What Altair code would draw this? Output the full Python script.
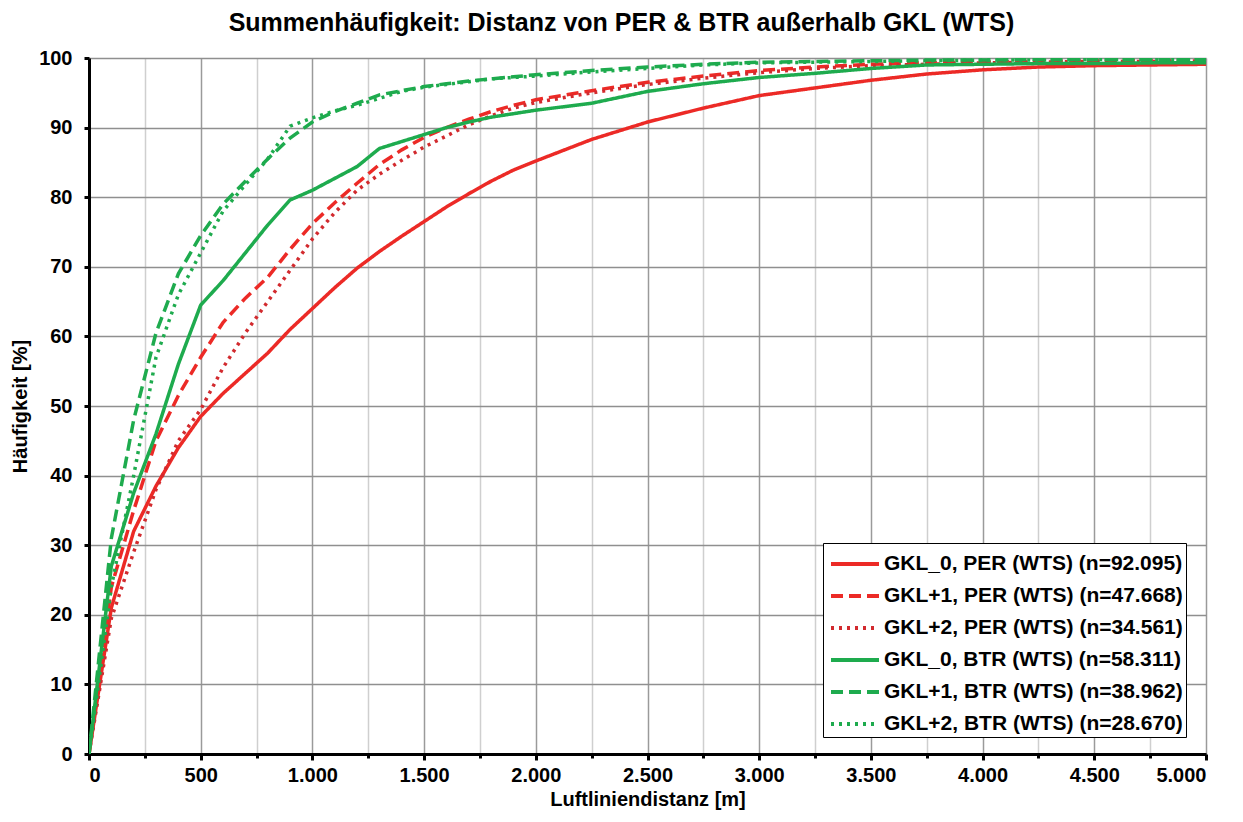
import altair as alt
import pandas as pd

# Distance grid [m]
distance = [0, 100, 200, 300, 400, 500, 600, 700, 800, 900, 1000, 1100, 1200, 1300, 1400,
            1500, 1600, 1700, 1800, 1900, 2000, 2250, 2500, 2750, 3000, 3250, 3500, 3750,
            4000, 4250, 4500, 4750, 5000]

# Cumulative frequency [%]
gkl0_per = [0, 21, 32, 38.5, 44, 48.5, 51.8, 54.7, 57.6, 61, 64, 67, 69.8, 72.2, 74.4,
            76.5, 78.6, 80.5, 82.3, 83.9, 85.2, 88.3, 90.8, 92.8, 94.6, 95.7, 96.8, 97.7,
            98.3, 98.7, 98.9, 99.0, 99.1]
gkl1_per = [0, 24, 35, 45, 51.5, 57, 62, 65.5, 68.5, 72.5, 76.2, 79.2, 82, 84.7, 86.8,
            88.6, 90, 91.2, 92.3, 93.2, 94, 95.3, 96.5, 97.4, 98.2, 98.7, 99.1, 99.3,
            99.4, 99.5, 99.6, 99.6, 99.7]
gkl2_per = [0, 19.5, 29, 38, 45, 49.5, 55.5, 60.5, 65, 69.5, 74, 77.8, 81, 83.3, 85.3,
            87.2, 88.8, 90.4, 91.7, 92.8, 93.6, 95, 96.2, 97.1, 97.9, 98.5, 98.9, 99.1,
            99.3, 99.4, 99.5, 99.5, 99.6]
gkl0_btr = [0, 27, 37.5, 46, 56, 64.5, 68, 72, 76, 79.6, 81, 82.7, 84.4, 87, 88,
            89, 90, 90.8, 91.5, 92, 92.5, 93.5, 95.2, 96.3, 97.2, 97.8, 98.5, 99,
            99.1, 99.2, 99.2, 99.3, 99.3]
gkl1_btr = [0, 31, 48, 60.5, 69, 74.5, 79, 82.3, 85.5, 88.5, 90.8, 92.3, 93.5, 94.7, 95.3,
            95.9, 96.3, 96.7, 97, 97.3, 97.6, 98.2, 98.7, 99.1, 99.4, 99.5, 99.6, 99.7,
            99.7, 99.8, 99.8, 99.8, 99.8]
gkl2_btr = [0, 24, 40, 57, 66, 72, 78, 81.8, 85.5, 90.2, 91.4, 92.4, 93.2, 94.2, 95.2,
            95.8, 96.2, 96.6, 97, 97.2, 97.4, 98, 98.5, 99, 99.3, 99.4, 99.5, 99.6,
            99.7, 99.7, 99.8, 99.8, 99.8]

series_names = [
    "GKL_0, PER (WTS) (n=92.095)",
    "GKL+1, PER (WTS) (n=47.668)",
    "GKL+2, PER (WTS) (n=34.561)",
    "GKL_0, BTR (WTS) (n=58.311)",
    "GKL+1, BTR (WTS) (n=38.962)",
    "GKL+2, BTR (WTS) (n=28.670)",
]
series_values = [gkl0_per, gkl1_per, gkl2_per, gkl0_btr, gkl1_btr, gkl2_btr]
series_colors = ["#ec2a26", "#ec2a26", "#d22a2e", "#1eab4e", "#1eab4e", "#1eab4e"]
series_dashes = [[1, 0], [12, 6], [3, 5], [1, 0], [12, 6], [3, 5]]

rows = []
for name, vals in zip(series_names, series_values):
    for d, v in zip(distance, vals):
        rows.append({"Distanz": d, "Haeufigkeit": v, "Serie": name})
df = pd.DataFrame(rows)

FONT = "Liberation Sans"

x_axis = alt.Axis(
    values=list(range(0, 5001, 250)),
    labelExpr="datum.value % 500 === 0 ? replace(format(datum.value, ','), ',', '.') : ''",
    grid=True,
    gridColor={"condition": {"test": "datum.value % 500 === 0", "value": "#9a9a9a"}, "value": "#cfcfcf"},
    gridWidth=1.5,
    tickColor="black",
    tickWidth=3,
    tickSize={"condition": {"test": "datum.value % 500 === 0", "value": 6}, "value": 4},
    labelFont=FONT, labelFontWeight="bold", labelFontSize=20, labelColor="black",
    labelPadding=5,
    title="Luftliniendistanz [m]",
    titleFont=FONT, titleFontWeight="bold", titleFontSize=20, titleColor="black",
    titlePadding=4,
    domainColor="black", domainWidth=3,
)
y_axis = alt.Axis(
    values=list(range(0, 101, 10)),
    grid=True, gridColor="#8f8f8f", gridWidth=1.5,
    tickColor="black", tickWidth=3, tickSize=5,
    labelFont=FONT, labelFontWeight="bold", labelFontSize=20, labelColor="black",
    labelPadding=12,
    title="Häufigkeit [%]",
    titleFont=FONT, titleFontWeight="bold", titleFontSize=20, titleColor="black",
    titlePadding=8,
    domainColor="black", domainWidth=3,
)

legend = alt.Legend(
    title=None,
    orient="none", legendX=734, legendY=485,
    fillColor="white", strokeColor="black",
    padding=3,
    labelFont=FONT, labelFontWeight="bold", labelFontSize=21, labelColor="black",
    labelLimit=400, labelOffset=11,
    symbolType="M-1.5,0H1.5", symbolSize=1024, symbolStrokeWidth=4, symbolOffset=11,
    rowPadding=4,
)

chart = alt.Chart(df).mark_line(strokeWidth=3.5, clip=True).encode(
    x=alt.X("Distanz:Q", scale=alt.Scale(domain=[0, 5000], nice=False), axis=x_axis),
    y=alt.Y("Haeufigkeit:Q", scale=alt.Scale(domain=[0, 100], nice=False), axis=y_axis),
    color=alt.Color("Serie:N", scale=alt.Scale(domain=series_names, range=series_colors), legend=legend,
                    sort=series_names),
    strokeDash=alt.StrokeDash("Serie:N", scale=alt.Scale(domain=series_names, range=series_dashes),
                              legend=legend, sort=series_names),
    order=alt.Order("Distanz:Q"),
).properties(
    width=1117, height=696,
    title=alt.TitleParams(
        "Summenhäufigkeit: Distanz von PER & BTR außerhalb GKL (WTS)",
        font=FONT, fontSize=25, fontWeight="bold", color="black",
        anchor="middle", offset=12, dx=-26,
    ),
    autosize=alt.AutoSizeParams(type="none"),
    padding={"left": 81, "top": 50, "right": 25, "bottom": 60},
).configure_view(
    stroke="black", strokeWidth=3,
).configure(background="white")

chart.save("out.html", embed_options={"renderer": "svg", "actions": False})
